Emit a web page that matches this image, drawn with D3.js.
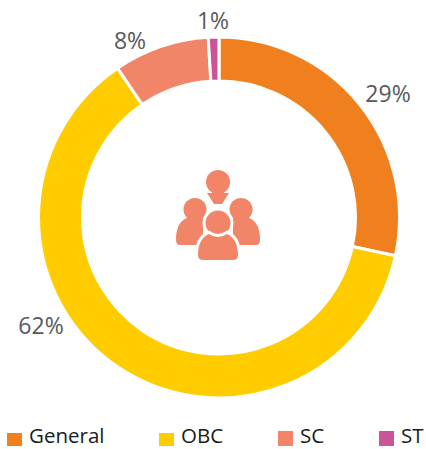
<!DOCTYPE html>
<html><head><meta charset="utf-8">
<script src="https://cdn.jsdelivr.net/npm/d3@7/dist/d3.min.js"></script>
<style>html,body{margin:0;padding:0;background:#fff}svg{display:block}text{font-family:"Open Sans",sans-serif}</style>
</head><body><svg id="c" width="426" height="449"></svg>
<script>
const categories=["General","OBC","SC","ST"];
const values=[28.4,62.1,8.55,0.95];
const pctLabels=["29%","62%","8%","1%"];
const colors=["#f0801e","#ffcc00","#f28468","#cb5498"];
const svg=d3.select("#c");
const cx=219,cy=217.5,R=180.5,r=136.5;
const color=d3.scaleOrdinal(categories,colors);
const pie=d3.pie().sort(null).value((d,i)=>values[i]);
const arc=d3.arc().innerRadius(r).outerRadius(R);
const arcs=pie(categories);
const g=svg.append("g").attr("transform",`translate(${cx},${cy})`);
g.selectAll("path").data(arcs).join("path").attr("d",arc).attr("fill",d=>color(d.data)).attr("stroke","#fff").attr("stroke-width",3);
const labelPos=[[388,94],[41,326],[130,41],[213,21]];
svg.selectAll("text.p").data(pctLabels).join("text").attr("class","p")
 .attr("x",(d,i)=>labelPos[i][0]).attr("y",(d,i)=>labelPos[i][1]).attr("dy","0.35em")
 .attr("text-anchor","middle").attr("font-size",23).attr("fill","#58595b").text(d=>d);
// people icon
const ic=svg.append("g").attr("fill","#f28468");
ic.append("circle").attr("cx",218).attr("cy",182).attr("r",12);
ic.append("path").attr("d","M212,190 L224,190 L224,193 L229,193 L222,204 L214,204 L207,193 L212,193 Z");
[[195,1],[241,-1]].forEach(([x,s])=>{
  ic.append("circle").attr("cx",x).attr("cy",209.5).attr("r",11.5);
  ic.append("path").attr("transform",`translate(${x},0) scale(${s},1)`)
    .attr("d","M-8,218 Q-19,222 -19,240 Q-19,245 -15,245 L8,245 L8,218 Z");
});
const front=ic.append("g").attr("stroke","#fff").attr("stroke-width",6).style("paint-order","stroke");
front.append("circle").attr("cx",218).attr("cy",223).attr("r",12.5);
front.append("path").attr("d","M209,234 Q218,240 227,234 C234,237 238,244 238,255 Q238,260 233,260 L203,260 Q198,260 198,255 C198,244 202,237 209,234 Z");
// legend
const lx=[7,159,278,379],tx=[29,181,300,401];
svg.selectAll("rect.l").data(categories).join("rect").attr("class","l")
 .attr("x",(d,i)=>lx[i]).attr("y",(d,i)=>i<2?433:431).attr("width",15).attr("height",(d,i)=>i<2?13:15).attr("fill",d=>color(d));
svg.selectAll("text.l").data(categories).join("text").attr("class","l")
 .attr("x",(d,i)=>tx[i]).attr("y",443).attr("font-size",20.5).attr("fill","#1a1a1a").text(d=>d);
</script></body></html>
